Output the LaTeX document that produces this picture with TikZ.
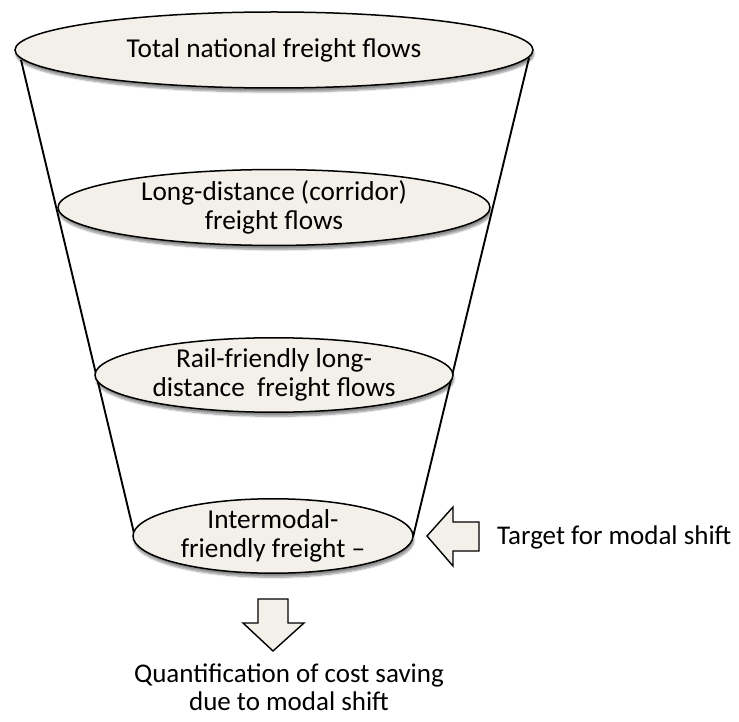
\documentclass[tikz,border=0pt]{standalone}
\usepackage{fontspec}
\setmainfont{Carlito}
\usetikzlibrary{shapes.geometric,shadows.blur}
\definecolor{fillc}{RGB}{242,240,232}
\begin{document}
\begin{tikzpicture}[x=1pt,y=-1pt,
  funnel/.style={ellipse, draw=black, line width=1.5pt, fill=fillc, inner sep=0pt,
    align=center, font=\fontsize{27.3}{29}\selectfont,
    blur shadow={shadow xshift=1pt, shadow yshift=-4pt, shadow blur steps=8, shadow opacity=45}},
  side/.style={draw=black, line width=1.9pt},
  blockarrow/.style={draw=black, line width=1.4pt, fill=fillc, line join=miter},
  lbl/.style={font=\fontsize{27}{28}\selectfont, align=center, inner sep=0pt}]
\useasboundingbox (0,0) rectangle (739,722);
% funnel sides
\coordinate (tl) at (21,60);
\coordinate (bl) at (134,533);
\coordinate (tr) at (529,58);
\coordinate (br) at (413,537);
\draw[side] (tl) -- (bl);
\draw[side] (tr) -- (br);
% ellipses
\node[funnel, minimum width=518pt, minimum height=76pt] (e1) at (274,50) {Total national freight flows};
\node[funnel, minimum width=432pt, minimum height=66pt] (e2) at (274,207.5) {Long-distance (corridor)\\freight flows};
\node[funnel, minimum width=358pt, minimum height=72pt] (e3) at (274,375) {Rail-friendly long-\\distance\ \ freight flows};
\node[funnel, minimum width=280pt, minimum height=74pt] (e4) at (273,536) {Intermodal-\\friendly freight --};
% left block arrow
\draw[blockarrow] (427,536) -- (453,507) -- (453,522) -- (479,522) -- (479,551) -- (453,551) -- (453,566) -- cycle;
\node[lbl, anchor=west] (t1) at (497,537) {Target for modal shift};
% down block arrow
\draw[blockarrow] (258,599) -- (288,599) -- (288,623) -- (304,623) -- (273,651) -- (243,623) -- (258,623) -- cycle;
\node[lbl] (t2) at (289,687) {Quantification of cost saving\\due to modal shift};
\end{tikzpicture}
\end{document}
